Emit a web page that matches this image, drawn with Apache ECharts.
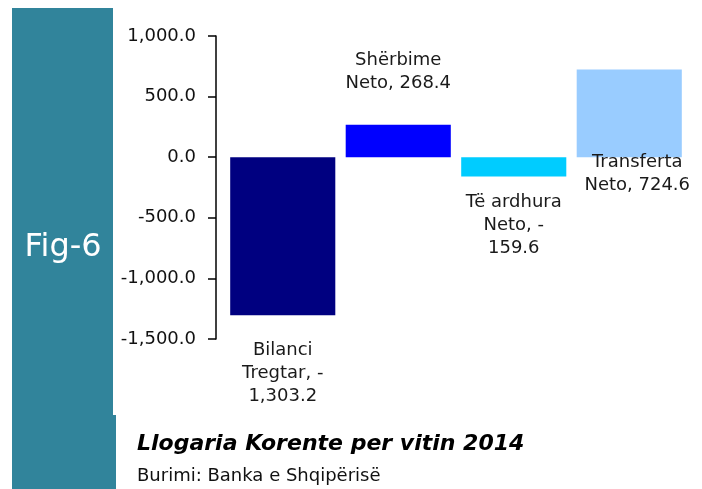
<!DOCTYPE html>
<html>
<head>
<meta charset="utf-8">
<script src="https://cdn.jsdelivr.net/npm/echarts@6/dist/echarts.min.js"></script>
<style>
  html, body { margin: 0; padding: 0; background: #fff; }
  #chart { width: 702px; height: 489px; }
</style>
</head>
<body>
<div id="chart"></div>
<script>
// te dhenat
var categories = ['Bilanci Tregtar', 'Shërbime Neto', 'Të ardhura Neto', 'Transferta Neto'];
var values = [-1303.2, 268.4, -159.6, 724.6];
var labelText = ['Bilanci\nTregtar, -\n1,303.2', 'Shërbime\nNeto, 268.4', 'Të ardhura\nNeto, -\n159.6', 'Transferta\nNeto, 724.6'];
var barColors = ['#000080', '#0000ff', '#00ccff', '#99ccff'];
var yTicks = [-1500, -1000, -500, 0, 500, 1000];

var teal = '#31849b';

function fmt(v) {
    var s = Math.abs(v).toFixed(1).split('.');
    s[0] = s[0].replace(/\B(?=(\d{3})+(?!\d))/g, ',');
    return (v < 0 ? '-' : '') + s.join('.');
}

// pozicionet e etiketave
var labelCfg = [
    { position: 'bottom', distance: 24 },
    { position: 'top', distance: 30 },
    { position: 'bottom', distance: 14 },
    { position: 'bottom', distance: -6, offset: [8, 0] }
];

var chart = echarts.init(document.getElementById('chart'));

chart.setOption({
    animation: false,
    grid: { left: 225, right: 15, top: 36, bottom: 150, containLabel: false },
    xAxis: {
        type: 'category',
        data: categories,
        show: false
    },
    yAxis: {
        type: 'value',
        min: yTicks[0],
        max: yTicks[yTicks.length - 1],
        interval: 500,
        offset: 9,
        axisLine: { show: true, lineStyle: { color: '#000', width: 1.5 } },
        axisTick: { show: true, length: 8, lineStyle: { color: '#000', width: 1.5 } },
        axisLabel: {
            margin: 20,
            color: '#111',
            fontFamily: 'DejaVu Sans',
            fontSize: 18,
            formatter: fmt
        },
        splitLine: { show: false }
    },
    series: [{
        type: 'bar',
        barCategoryGap: '9%',
        data: values.map(function (v, i) {
            return {
                value: v,
                itemStyle: { color: barColors[i] },
                label: Object.assign({
                    show: true,
                    formatter: labelText[i],
                    color: '#1a1a1a',
                    fontFamily: 'DejaVu Sans',
                    fontSize: 18,
                    lineHeight: 23,
                    align: 'center'
                }, labelCfg[i])
            };
        })
    }],
    graphic: [
        { type: 'rect', shape: { x: 12, y: 8, width: 101, height: 481 }, style: { fill: teal } },
        { type: 'rect', shape: { x: 112, y: 415, width: 4, height: 74 }, style: { fill: teal } },
        {
            type: 'text', x: 63, y: 248,
            style: { text: 'Fig-6', fill: '#fff', font: '32px "DejaVu Sans"', align: 'center', verticalAlign: 'middle' }
        },
        {
            type: 'text', x: 137, y: 444,
            style: { text: 'Llogaria Korente per vitin 2014', fill: '#000', font: 'italic bold 22px "DejaVu Sans"', verticalAlign: 'middle' }
        },
        {
            type: 'text', x: 137, y: 476,
            style: { text: 'Burimi: Banka e Shqipërisë', fill: '#111', font: '18px "DejaVu Sans"', verticalAlign: 'middle' }
        }
    ]
});
</script>
</body>
</html>
